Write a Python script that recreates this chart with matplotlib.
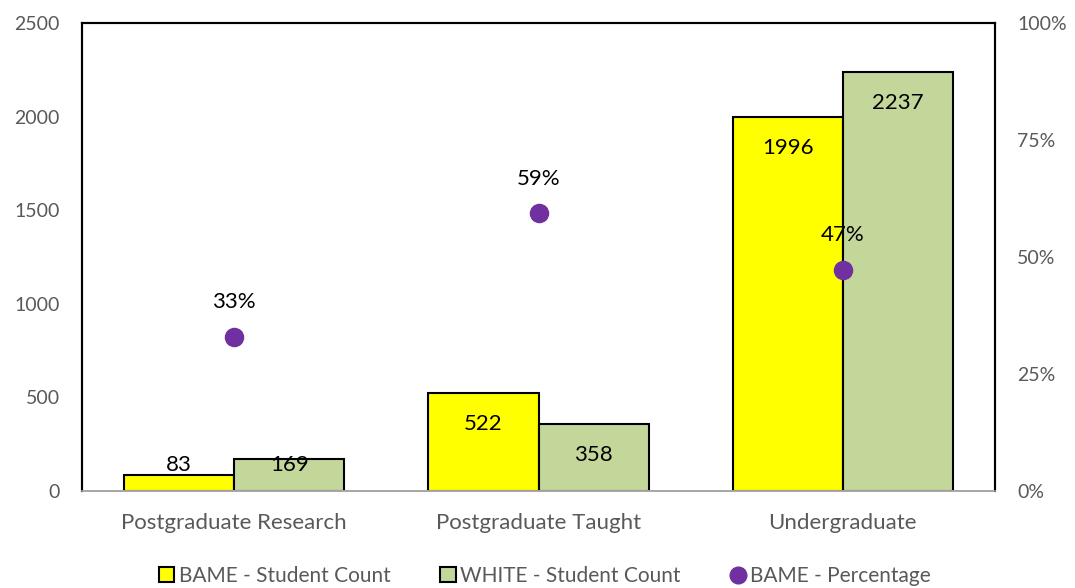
import matplotlib
matplotlib.use("Agg")
import matplotlib.pyplot as plt
import numpy as np
from matplotlib.lines import Line2D
from matplotlib.patches import Patch

categories = ["Postgraduate Research", "Postgraduate Taught", "Undergraduate"]
bame_count = [83, 522, 1996]
white_count = [169, 358, 2237]
bame_pct = [0.329, 0.593, 0.472]
pct_labels = ["33%", "59%", "47%"]
left_ticks = [0, 500, 1000, 1500, 2000, 2500]
right_ticks = [0, 0.25, 0.5, 0.75, 1.0]
right_tick_labels = ["0%", "25%", "50%", "75%", "100%"]

plt.rcParams['font.family'] = ['Lato', 'DejaVu Sans']

fig = plt.figure(figsize=(10.75, 5.88), dpi=100)
ax = fig.add_axes([82/1075, 97/588, 913/1075, 468/588])
ax2 = ax.twinx()

yellow = "#FFFF00"
green = "#C4D79B"
purple = "#7030A0"
gray = "#595959"

x = np.arange(len(categories))
w = 0.362
b1 = ax.bar(x - w/2, bame_count, w, color=yellow, edgecolor="black", linewidth=1.5, zorder=2)
b2 = ax.bar(x + w/2, white_count, w, color=green, edgecolor="black", linewidth=1.5, zorder=2)

ax.set_xlim(-0.5, 2.5)
ax.set_ylim(0, 2500)
ax.set_yticks(left_ticks)
ax.set_yticklabels([str(t) for t in left_ticks], color=gray, fontsize=14)
ax.set_xticks(x)
ax.set_xticklabels(categories, color=gray, fontsize=16)
ax.tick_params(axis='both', length=0)
ax.tick_params(axis='x', pad=16)
ax.tick_params(axis='y', pad=16)

for s in ['left', 'top', 'right']:
    ax.spines[s].set_color('black')
    ax.spines[s].set_linewidth(1.5)
    ax2.spines[s].set_color('black')
    ax2.spines[s].set_linewidth(1.5)
ax.spines['bottom'].set_color('#A6A6A6')
ax.spines['bottom'].set_linewidth(1.2)
ax2.spines['bottom'].set_color('#A6A6A6')
ax2.spines['bottom'].set_linewidth(1.2)

def label_bars(bars, vals):
    for rect, v in zip(bars, vals):
        cx = rect.get_x() + rect.get_width()/2
        if v > 300:
            ax.annotate(str(v), (cx, v), xytext=(0, -22), textcoords='offset points',
                        ha='center', va='center', fontsize=16, color='black', zorder=5)
        else:
            ax.annotate(str(v), (cx, 0), xytext=(0, 18.5), textcoords='offset points',
                        ha='center', va='center', fontsize=16, color='black', zorder=5)

label_bars(b1, bame_count)
label_bars(b2, white_count)

ax2.set_ylim(0, 1.0)
ax2.set_yticks(right_ticks)
ax2.set_yticklabels(right_tick_labels, color=gray, fontsize=14)
ax2.tick_params(axis='y', length=0, pad=16)
ax2.scatter(x, bame_pct, s=170, color=purple, zorder=6)
for xi, p, lab in zip(x, bame_pct, pct_labels):
    ax2.annotate(lab, (xi, p), xytext=(0, 25), textcoords='offset points',
                 ha='center', va='center', fontsize=16, color='black')

handles = [
    Patch(facecolor=yellow, edgecolor='black', linewidth=1.5, label="BAME - Student Count"),
    Patch(facecolor=green, edgecolor='black', linewidth=1.5, label="WHITE - Student Count"),
    Line2D([], [], marker='o', linestyle='none', markersize=12, color=purple, label="BAME - Percentage"),
]
leg = fig.legend(handles=handles, loc='center', bbox_to_anchor=(545/1075, 1 - 576/588), ncol=3,
                 frameon=False, fontsize=15, handlelength=0.75, handleheight=0.75,
                 handletextpad=0.2, columnspacing=2.4)
for t in leg.get_texts():
    t.set_color(gray)

fig.savefig("out.png", dpi=100)
